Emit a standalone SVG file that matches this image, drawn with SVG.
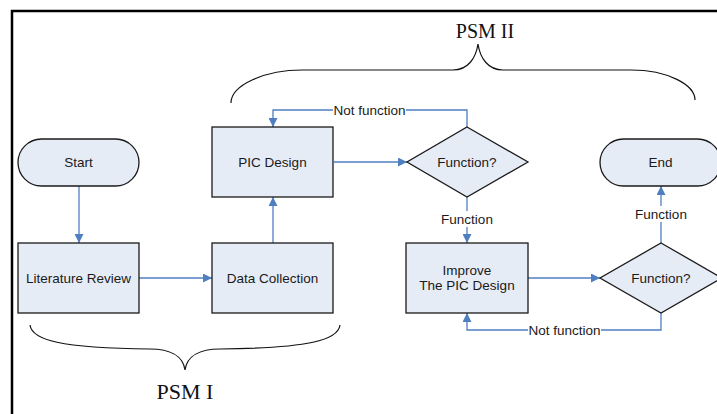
<svg xmlns="http://www.w3.org/2000/svg" width="717" height="414" viewBox="0 0 717 414">
  <style>
    .node { fill: #E6ECF6; stroke: #1a1a1a; stroke-width: 1.3; }
    .label { font-family: "Liberation Sans", Arial, sans-serif; font-size: 13.5px; fill: #1a1a1a; text-anchor: middle; }
    .edge { fill: none; stroke: #4F7FC0; stroke-width: 1.3; }
    .brace { fill: none; stroke: #111; stroke-width: 1.2; }
    .phase { font-family: "Liberation Serif", "Times New Roman", serif; fill: #111; text-anchor: middle; }
    .bg { fill: #ffffff; }
  </style>
  <defs>
    <marker id="arrow" viewBox="0 0 10 10" refX="10" refY="5" markerWidth="9" markerHeight="9" markerUnits="userSpaceOnUse" orient="auto">
      <path d="M0,0 L10,5 L0,10 z" fill="#4F7FC0"/>
    </marker>
  </defs>

  <rect x="0" y="0" width="717" height="414" fill="#ffffff"/>
  <!-- outer frame (right and bottom edges run off the page) -->
  <rect x="12" y="11" width="720" height="420" fill="none" stroke="#000" stroke-width="2.5"/>

  <!-- phase braces -->
  <g id="psm2">
    <path class="brace" d="M231,103 C231,85 265,70 302,70 L453,70 C468,70 476,58 478,44 C480,58 488,70 503,70 L631,70 C668,70 695,85 695,100"/>
    <text class="phase" x="485" y="38" font-size="20">PSM II</text>
  </g>
  <g id="psm1">
    <path class="brace" d="M30,325 C32,340 60,348 150,349 C170,349 183,356 185,370 C187,356 200,349 220,349 C310,348 338,340 340,325"/>
    <text class="phase" x="185" y="399" font-size="22">PSM I</text>
  </g>

  <!-- connectors -->
  <g id="connectors">
    <path class="edge" d="M79,186 L79,243" marker-end="url(#arrow)"/>
    <path class="edge" d="M139,278 L212,278" marker-end="url(#arrow)"/>
    <path class="edge" d="M273,243 L273,197" marker-end="url(#arrow)"/>
    <path class="edge" d="M334,162 L407,162" marker-end="url(#arrow)"/>
    <path class="edge" d="M467,127 L467,110 L273,110 L273,127" marker-end="url(#arrow)"/>
    <path class="edge" d="M467,197 L467,243" marker-end="url(#arrow)"/>
    <path class="edge" d="M528,278 L600,278" marker-end="url(#arrow)"/>
    <path class="edge" d="M661,313 L661,330 L467,330 L467,313" marker-end="url(#arrow)"/>
    <path class="edge" d="M661,243 L661,186" marker-end="url(#arrow)"/>

    <rect class="bg" x="333" y="102" width="73" height="16"/>
    <text class="label" x="369.5" y="115">Not function</text>
    <rect class="bg" x="440" y="211" width="54" height="16"/>
    <text class="label" x="467" y="224">Function</text>
    <rect class="bg" x="528" y="322" width="73" height="16"/>
    <text class="label" x="564.5" y="335">Not function</text>
    <rect class="bg" x="634" y="206" width="54" height="16"/>
    <text class="label" x="661" y="219">Function</text>
  </g>

  <!-- nodes -->
  <g id="start">
    <rect class="node" x="18" y="139" width="121" height="47" rx="23.5"/>
    <text class="label" x="78.5" y="167">Start</text>
  </g>
  <g id="literature-review">
    <rect class="node" x="18" y="243" width="121" height="70"/>
    <text class="label" x="78.5" y="283">Literature Review</text>
  </g>
  <g id="data-collection">
    <rect class="node" x="212" y="243" width="121" height="70"/>
    <text class="label" x="272.5" y="283">Data Collection</text>
  </g>
  <g id="pic-design">
    <rect class="node" x="212" y="127" width="121" height="70"/>
    <text class="label" x="272.5" y="167">PIC Design</text>
  </g>
  <g id="check-1">
    <polygon class="node" points="467,127 528,162 467,197 407,162"/>
    <text class="label" x="467" y="167">Function?</text>
  </g>
  <g id="improve">
    <rect class="node" x="406" y="243" width="122" height="70"/>
    <text class="label" x="467" y="275">Improve</text>
    <text class="label" x="467" y="290">The PIC Design</text>
  </g>
  <g id="check-2">
    <polygon class="node" points="661,243 722,278 661,313 600,278"/>
    <text class="label" x="661" y="283">Function?</text>
  </g>
  <g id="end">
    <rect class="node" x="600" y="139" width="121" height="47" rx="23.5"/>
    <text class="label" x="660.5" y="167">End</text>
  </g>
</svg>
